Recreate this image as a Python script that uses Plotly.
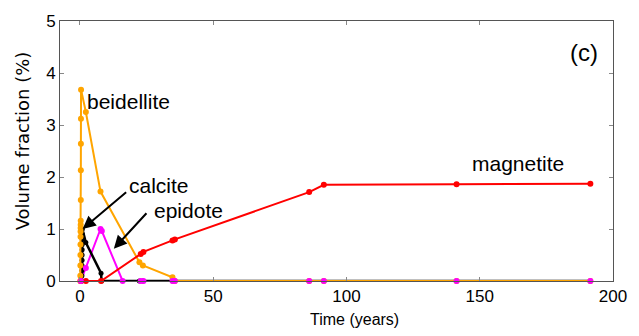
import plotly.graph_objects as go

# Mineral volume fractions (%) versus time (years)
beidellite_t = [0.10, 0.12, 0.14, 0.16, 0.18, 0.20, 0.22, 0.24, 0.26, 0.28, 0.30, 0.32, 0.34, 0.36, 0.40,
                2.2, 7.7, 22.3, 23.6, 34.7, 35.6, 86.0, 91.5, 141.3, 191.5]
beidellite_v = [0.0, 0.1, 0.3, 0.5, 0.7, 0.85, 0.95, 1.02, 1.08, 1.16, 1.56, 2.13, 2.64, 3.12, 3.68,
                3.25, 1.72, 0.36, 0.30, 0.07, 0.0, 0.0, 0.0, 0.0, 0.0]

calcite_t = [0.70, 0.72, 0.74, 0.76, 0.78, 0.80, 0.82, 0.84, 0.86, 0.88, 0.90,
             2.2, 7.9, 8.1, 22.3, 23.6, 34.7, 35.6, 86.0, 91.5, 141.3, 191.5]
calcite_v = [0.0, 0.1, 0.2, 0.3, 0.4, 0.5, 0.6, 0.7, 0.8, 0.9, 1.0,
             0.74, 0.15, 0.0, 0.0, 0.0, 0.0, 0.0, 0.0, 0.0, 0.0, 0.0]

magnetite_t = [0.3, 2.2, 7.9, 22.8, 23.8, 34.7, 35.6, 86.0, 91.5, 141.3, 191.5]
magnetite_v = [0.0, 0.0, 0.0, 0.52, 0.56, 0.78, 0.80, 1.71, 1.85, 1.86, 1.87]

epidote_t = [0.3, 2.2, 7.7, 8.2, 16.0, 22.8, 23.8, 34.7, 35.6, 86.0, 91.5, 141.3, 191.5]
epidote_v = [0.0, 0.25, 1.0, 0.96, 0.0, 0.0, 0.0, 0.0, 0.0, 0.0, 0.0, 0.0, 0.0]

x_ticks = [0, 50, 100, 150, 200]
y_ticks = [0, 1, 2, 3, 4, 5]

NARROW = "Liberation Sans Narrow, Arial Narrow, Liberation Sans, sans-serif"
ARIAL = "Liberation Sans, Arial, sans-serif"

fig = go.Figure()


def add_series(t, v, color, mode="lines+markers", width=2, size=6):
    fig.add_trace(go.Scatter(
        x=t, y=v, mode=mode,
        line=dict(color=color, width=width),
        marker=dict(color=color, size=size, symbol="circle"),
        cliponaxis=False, showlegend=False, hoverinfo="x+y",
    ))


# Epidote line sits underneath; its markers are redrawn on top at the end
add_series(epidote_t, epidote_v, "#FF00FF", mode="lines")
add_series(calcite_t, calcite_v, "#000000", width=2.5, size=5)
add_series(beidellite_t, beidellite_v, "#FFA500")
add_series(magnetite_t, magnetite_v, "#FF0000")
add_series(epidote_t, epidote_v, "#FF00FF", mode="markers")

annotations = []
# Mineral labels
for txt, x, y in [("beidellite", 2.0, 3.46), ("calcite", 17.8, 1.84),
                  ("epidote", 27.0, 1.365), ("magnetite", 146.5, 2.26)]:
    annotations.append(dict(text=txt, x=x, y=y, xref="x", yref="y", xanchor="left",
                            yanchor="middle", showarrow=False,
                            font=dict(family=ARIAL, size=21, color="#000000")))
annotations.append(dict(text="(c)", x=183, y=4.39, xref="x", yref="y", xanchor="left",
                        yanchor="middle", showarrow=False,
                        font=dict(family=ARIAL, size=24, color="#000000")))

# Pointer arrows to calcite and epidote curves
for x, y, ax, ay in [(1.0, 1.0, 45, -38), (12.7, 0.62, 34, -37)]:
    annotations.append(dict(text="", x=x, y=y, xref="x", yref="y", ax=ax, ay=ay,
                            showarrow=True, arrowhead=2, arrowsize=1.3, arrowwidth=2,
                            arrowcolor="#000000"))

# Axis titles
annotations.append(dict(text="Time (years)", x=103, y=-0.148, xref="x", yref="paper",
                        xanchor="center", yanchor="middle", showarrow=False,
                        font=dict(family=NARROW, size=16, color="#000000")))
annotations.append(dict(text="Volume fraction (%)", x=-0.0674, y=2.70, xref="paper", yref="y",
                        xanchor="center", yanchor="middle", showarrow=False, textangle=-90,
                        font=dict(family="DejaVu Sans, sans-serif", size=18, color="#000000")))

axis_common = dict(
    showgrid=False, zeroline=False, showline=True, linecolor="#555555", linewidth=1,
    mirror="ticks", ticks="inside", ticklen=4, tickcolor="#888888",
    tickfont=dict(family=NARROW, size=17, color="#000000"),
)

fig.update_layout(
    width=639, height=336,
    margin=dict(l=60, r=16, t=18, b=55),
    paper_bgcolor="#FFFFFF", plot_bgcolor="#FFFFFF",
    xaxis=dict(range=[-7.5, 200], tickvals=x_ticks, **axis_common),
    yaxis=dict(range=[0, 5], tickvals=y_ticks, **axis_common),
    annotations=annotations,
)

fig.write_html("out.html")
